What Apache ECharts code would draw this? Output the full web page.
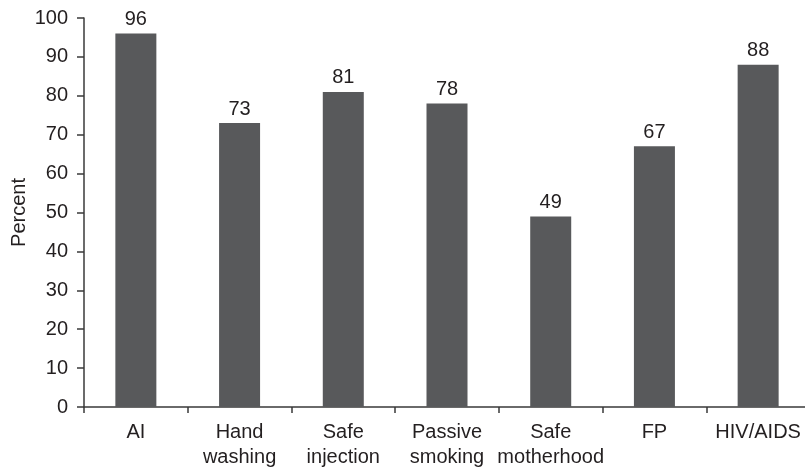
<!DOCTYPE html>
<html>
<head>
<meta charset="utf-8">
<script src="https://cdn.jsdelivr.net/npm/echarts@6/dist/echarts.min.js"></script>
<style>
  html, body { margin: 0; padding: 0; background: #fff; }
  #chart { width: 805px; height: 470px; }
</style>
</head>
<body>
<div id="chart"></div>
<script>
const categories = ['AI', 'Hand\nwashing', 'Safe\ninjection', 'Passive\nsmoking', 'Safe\nmotherhood', 'FP', 'HIV/AIDS'];
const percents = [96, 73, 81, 78, 49, 67, 88];

const chart = echarts.init(document.getElementById('chart'));
const textColor = '#231f20';
const lineColor = '#3a3a3a';
const font = 'Liberation Sans, Arial, sans-serif';

chart.setOption({
  animation: false,
  grid: { left: 84, top: 18, width: 726, height: 389, outerBoundsMode: 'none', containLabel: false },
  xAxis: {
    type: 'category',
    data: categories,
    axisLine: { lineStyle: { color: lineColor, width: 1.5 } },
    axisTick: { show: true, length: 6, lineStyle: { color: lineColor, width: 1.5 } },
    axisLabel: {
      interval: 0,
      color: textColor,
      fontFamily: font,
      fontSize: 20,
      lineHeight: 25,
      margin: 13,
      hideOverlap: false
    }
  },
  yAxis: {
    type: 'value',
    min: 0,
    max: 100,
    interval: 10,
    name: 'Percent',
    nameLocation: 'middle',
    nameGap: 55,
    nameMoveOverlap: false,
    nameTextStyle: { color: textColor, fontFamily: font, fontSize: 20 },
    axisLine: { show: true, lineStyle: { color: lineColor, width: 1.5 } },
    axisTick: { show: true, length: 7, lineStyle: { color: lineColor, width: 1.5 } },
    axisLabel: {
      color: textColor,
      fontFamily: font,
      fontSize: 20,
      margin: 16
    },
    splitLine: { show: false }
  },
  series: [
    {
      type: 'bar',
      data: percents,
      barWidth: 41,
      itemStyle: { color: '#58595b' },
      label: {
        show: true,
        position: 'top',
        distance: 4,
        color: textColor,
        fontFamily: font,
        fontSize: 20
      }
    }
  ]
});
</script>
</body>
</html>
